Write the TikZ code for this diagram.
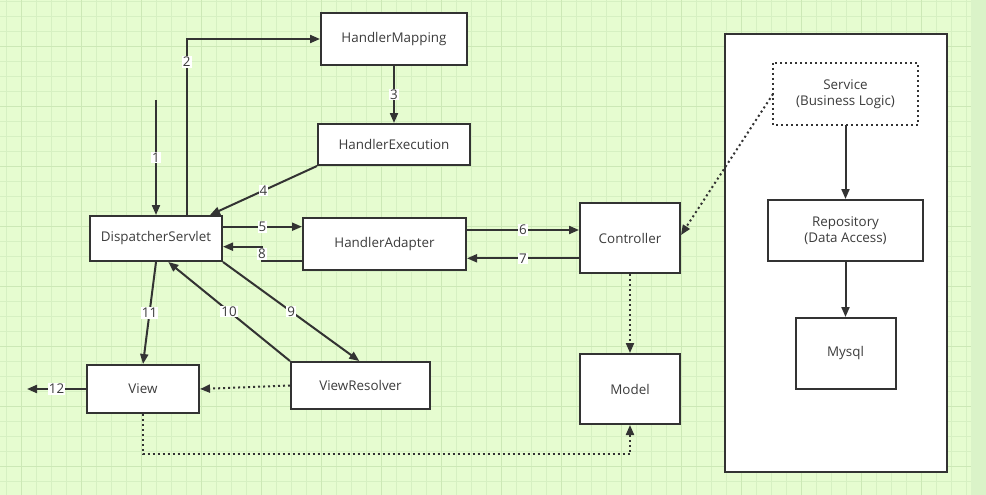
\documentclass[tikz,border=0pt]{standalone}
\usepackage{fontspec}
\setmainfont{Open Sans}
\usetikzlibrary{arrows.meta,calc}
\definecolor{bg}{RGB}{230,252,208}
\definecolor{strip}{RGB}{218,243,200}
\definecolor{gridminor}{RGB}{214,240,194}
\definecolor{gridmajor}{RGB}{204,232,182}
\definecolor{ln}{RGB}{51,51,51}
\definecolor{txt}{RGB}{60,60,60}
\tikzset{
  box/.style={draw=ln, line width=2pt, fill=white, text=txt, align=center,
    font=\fontsize{13.4}{16}\selectfont, inner sep=2pt},
  arr/.style={draw=ln, line width=2pt, -{Triangle[length=10pt,width=8pt]}},
  dotarr/.style={draw=ln, line width=2pt, dash pattern=on 2pt off 3pt,
    -{Triangle[length=10pt,width=8pt]}},
  lbl/.style={fill=white, inner sep=1pt, text=txt, font=\fontsize{13.4}{15}\selectfont}
}
\begin{document}
\begin{tikzpicture}[x=1pt,y=-1pt]
% background and grid
\fill[bg] (0,0) rectangle (971,495);
\fill[strip] (971,0) rectangle (986,495);
\useasboundingbox (0,0) rectangle (986,495);
\foreach \k in {0,...,64} {\draw[gridminor,line width=1pt] (6.7+15*\k,0) -- (6.7+15*\k,495);}
\foreach \k in {0,...,32} {\draw[gridminor,line width=1pt] (0,1.7+15*\k) -- (971,1.7+15*\k);}
\foreach \k in {0,...,15} {\draw[gridmajor,line width=1.3pt] (21.7+60*\k,0) -- (21.7+60*\k,495);}
\foreach \k in {0,...,7} {\draw[gridmajor,line width=1.3pt] (0,46.7+60*\k) -- (971,46.7+60*\k);}

% nodes
\node[box, minimum width=146pt, minimum height=52pt] (hm) at (394,39) {HandlerMapping};
\node[box, minimum width=152pt, minimum height=41pt] (he) at (394,144.5) {HandlerExecution};
\node[box, minimum width=132pt, minimum height=45pt] (ds) at (156,238.5) {DispatcherServlet};
\node[box, minimum width=163pt, minimum height=52pt] (ha) at (384.5,244) {HandlerAdapter};
\node[box, minimum width=100pt, minimum height=70pt] (ctrl) at (630,238) {Controller};
\node[box, minimum width=100pt, minimum height=70pt] (model) at (630,389) {Model};
\node[box, minimum width=139pt, minimum height=47pt] (vr) at (360.5,385.5) {ViewResolver};
\node[box, minimum width=112pt, minimum height=48pt] (view) at (143,389) {View};
\node[box, minimum width=222pt, minimum height=438pt] (outer) at (836,253) {};
\node[box, draw=none, minimum width=143pt, minimum height=60pt] (svc) at (845.5,94) {Service\\(Business Logic)};
\draw[ln, line width=2pt, dash pattern=on 2pt off 3pt] (svc.north west) rectangle (svc.south east);
\node[box, minimum width=155pt, minimum height=61pt] (repo) at (845.5,230.5) {Repository\\(Data Access)};
\node[box, minimum width=100pt, minimum height=71pt] (mysql) at (845.5,353.5) {Mysql};

% connectors
\coordinate (s1) at (156,100);
\draw[arr] (s1) -- node[lbl]{1} (ds.north);
\draw[arr] ($(ds.north)+(30.7,0)$) |- node[lbl,pos=0.435]{2} (hm.west);
\draw[arr] (hm.south) -- node[lbl]{3} (he.north);
\draw[arr] (he.south west) -- node[lbl]{4} ($(ds.north)+(54,0)$);
\coordinate (a5) at ($(ds.east)+(0,-11.8)$);
\draw[arr] (a5) -- node[lbl]{5} (a5 -| ha.west);
\coordinate (a8) at ($(ha.west)+(0,17)$);
\coordinate (b8) at ($(ds.east)+(0,8.2)$);
\draw[arr] (a8) -- ++(-40,0) |- node[lbl,pos=0.25]{8} (b8);
\coordinate (a6) at ($(ha.east)+(0,-14)$);
\draw[arr] (a6) -- node[lbl]{6} (a6 -| ctrl.west);
\coordinate (a7) at ($(ctrl.west)+(0,20.3)$);
\draw[arr] (a7) -- node[lbl]{7} (a7 -| ha.east);
\draw[arr] (ds.south east) -- node[lbl]{9} ($(vr.north)+(-1.2,0)$);
\draw[arr] (vr.north west) -- node[lbl]{10} ($(ds.south)+(12.3,0)$);
\draw[arr] (ds.south) -- node[lbl]{11} (view.north);
\coordinate (e12) at (27,389);
\draw[arr] (view.west) -- node[lbl]{12} (e12);
\draw[dotarr] (vr.west) -- (view.east);
\draw[dotarr] (view.south) -- ++(0,40.3) -| (model.south);
\draw[dotarr] (ctrl.south) -- (model.north);
\draw[dotarr] (svc.west) -- ($(ctrl.east)+(0,-3)$);
\draw[arr] (svc.south) -- (repo.north);
\draw[arr] (repo.south) -- (mysql.north);
\end{tikzpicture}
\end{document}
